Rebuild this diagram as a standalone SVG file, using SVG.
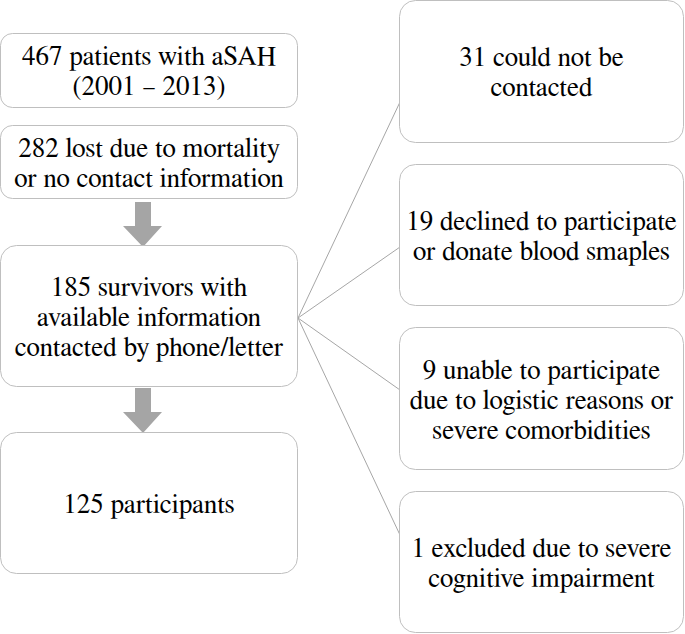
<svg xmlns="http://www.w3.org/2000/svg" width="685" height="634" viewBox="0 0 685 634">
<style>
.box{fill:#ffffff;stroke:#bfbfbf;stroke-width:1}
.t{font-family:FreeSerif,"Liberation Serif","DejaVu Serif",serif;font-size:27px;fill:#000000;text-anchor:middle}
.ln{stroke:#a6a6a6;stroke-width:1;fill:none}
.arr{fill:#a5a5a5}
</style>
<rect width="685" height="634" fill="#ffffff"/>
<g id="connectors">
<line class="ln" x1="298" y1="318" x2="400" y2="102"/>
<line class="ln" x1="298" y1="318" x2="400" y2="247"/>
<line class="ln" x1="298" y1="318" x2="400" y2="390"/>
<line class="ln" x1="298" y1="318" x2="400" y2="535"/>
<polygon class="arr" points="135,202 151,202 151,226 162,226 143,247 123,226 135,226"/>
<polygon class="arr" points="135,388 151,388 151,412 162,412 143,433 123,412 135,412"/>
</g>
<g id="n1">
<rect class="box" x="0.5" y="33.5" width="297" height="74" rx="12"/>
<text class="t" x="149" y="65">467 patients with aSAH</text>
<text class="t" x="149" y="95">(2001 – 2013)</text>
</g>
<g id="n2">
<rect class="box" x="0.5" y="125.5" width="297" height="73" rx="12"/>
<text class="t" x="149" y="157">282 lost due to mortality</text>
<text class="t" x="149" y="187">or no contact information</text>
</g>
<g id="n3">
<rect class="box" x="0.5" y="245.5" width="297" height="141" rx="16"/>
<text class="t" x="149" y="296">185 survivors with</text>
<text class="t" x="149" y="326">available information</text>
<text class="t" x="149" y="356">contacted by phone/letter</text>
</g>
<g id="n4">
<rect class="box" x="0.5" y="432.5" width="297" height="141" rx="16"/>
<text class="t" x="149" y="513">125 participants</text>
</g>
<g id="r1">
<rect class="box" x="399.5" y="0.5" width="284" height="142" rx="16"/>
<text class="t" x="541.5" y="66">31 could not be</text>
<text class="t" x="541.5" y="96">contacted</text>
</g>
<g id="r2">
<rect class="box" x="399.5" y="164.5" width="284" height="141" rx="16"/>
<text class="t" x="541.5" y="230">19 declined to participate</text>
<text class="t" x="541.5" y="260">or donate blood smaples</text>
</g>
<g id="r3">
<rect class="box" x="399.5" y="327.5" width="284" height="142" rx="16"/>
<text class="t" x="541.5" y="379">9 unable to participate</text>
<text class="t" x="541.5" y="409">due to logistic reasons or</text>
<text class="t" x="541.5" y="439">severe comorbidities</text>
</g>
<g id="r4">
<rect class="box" x="399.5" y="491.5" width="284" height="141" rx="16"/>
<text class="t" x="541.5" y="557">1 excluded due to severe</text>
<text class="t" x="541.5" y="587">cognitive impairment</text>
</g>
</svg>
